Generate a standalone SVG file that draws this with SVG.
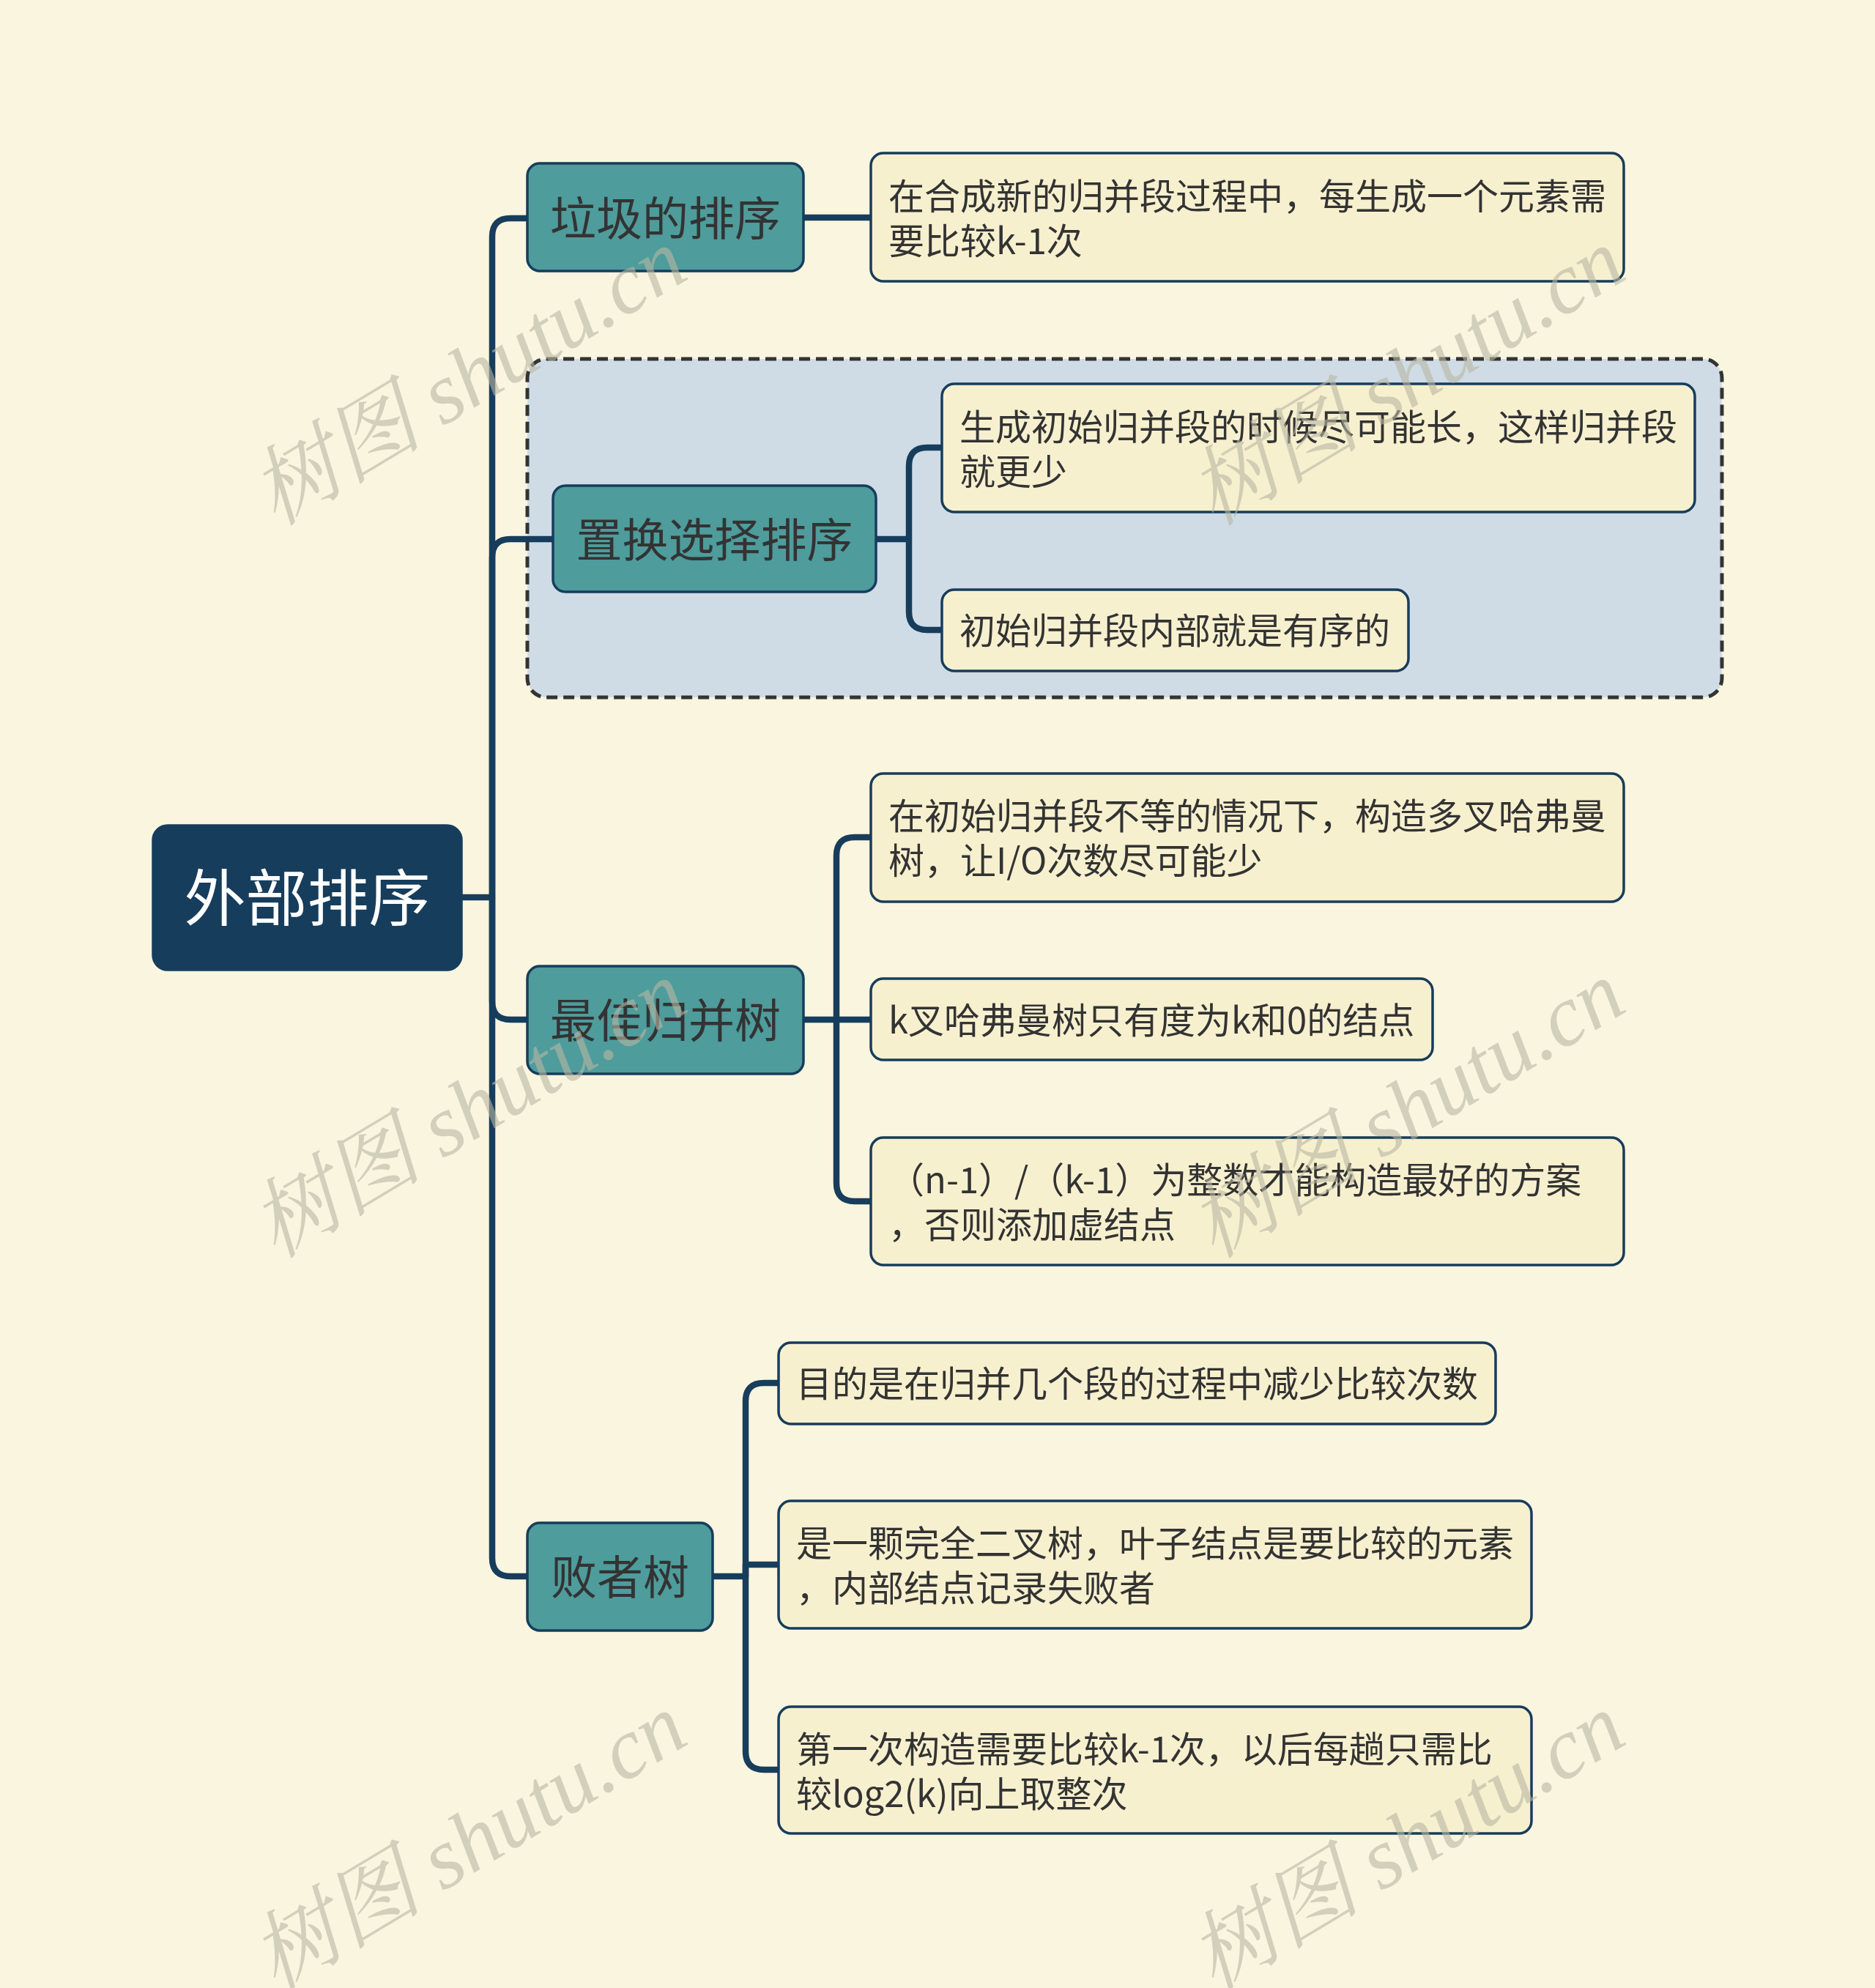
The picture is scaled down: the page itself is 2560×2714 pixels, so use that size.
<svg xmlns="http://www.w3.org/2000/svg" width="2560" height="2714" viewBox="0 0 2560 2714">
<style>
.bg{fill:#faf5df}
.root{fill:#173d5c;stroke:#173d5c;stroke-width:3.5}
.br{fill:#4e9c9c;stroke:#173d5c;stroke-width:3.5}
.lf{fill:#f7f0cf;stroke:#173d5c;stroke-width:3.5}
.grp{fill:#cfdce6;stroke:#333333;stroke-width:5;stroke-dasharray:15 8}
.cn{fill:none;stroke:#173d5c;stroke-width:8.5;stroke-linejoin:round}
text{font-family:"Noto Sans CJK SC","Noto Sans",sans-serif;dominant-baseline:central}
.tr{fill:#ffffff;font-size:84px;text-anchor:middle}
.tb{fill:#333333;font-size:63px;text-anchor:middle}
.tl{fill:#333333;font-size:49px}
.wm{fill:#b9b7a3;opacity:0.6;font-family:"Liberation Serif","Noto Serif CJK SC","Noto Sans CJK SC",serif;font-style:italic;font-size:118px;text-anchor:middle}
</style>
<rect class="bg" x="0" y="0" width="2560" height="2714"/>
<g id="group-box">
<rect class="grp" x="720" y="490" width="1631" height="462" rx="26"/>
</g>
<g id="connectors">
<path class="cn" d="M 630 1225 H 672 V 323 Q 672 298 697 298 H 720"/>
<path class="cn" d="M 672 1225 V 761 Q 672 736 697 736 H 755"/>
<path class="cn" d="M 672 1225 V 1367 Q 672 1392 697 1392 H 720"/>
<path class="cn" d="M 672 1225 V 2127 Q 672 2152 697 2152 H 720"/>
<path class="cn" d="M 1097 297 H 1189"/>
<path class="cn" d="M 1196 736 H 1241 V 636 Q 1241 611 1266 611 H 1286"/>
<path class="cn" d="M 1241 736 V 835 Q 1241 860 1266 860 H 1286"/>
<path class="cn" d="M 1097 1392 H 1142 V 1168 Q 1142 1143 1167 1143 H 1189"/>
<path class="cn" d="M 1142 1392 H 1189"/>
<path class="cn" d="M 1142 1392 V 1615 Q 1142 1640 1167 1640 H 1189"/>
<path class="cn" d="M 973 2152 H 1018 V 1913 Q 1018 1888 1043 1888 H 1063"/>
<path class="cn" d="M 1018 2152 V 2136 H 1063"/>
<path class="cn" d="M 1018 2152 V 2391 Q 1018 2416 1043 2416 H 1063"/>
</g>
<g id="root">
<rect class="root" x="209" y="1127" width="421" height="197" rx="20"/>
<text class="tr" x="419.5" y="1220">外部排序</text>
</g>
<g id="b1">
<rect class="br" x="720" y="223" width="377" height="147" rx="17"/>
<text class="tb" x="908.5" y="293">垃圾的排序</text>
</g>
<g id="l1">
<rect class="lf" x="1189" y="209" width="1028" height="175" rx="17"/>
<text class="tl" x="1213" y="264">在合成新的归并段过程中，每生成一个元素需</text>
<text class="tl" x="1213" y="325">要比较k-1次</text>
</g>
<g id="b2">
<rect class="br" x="755" y="663" width="441" height="145" rx="17"/>
<text class="tb" x="975.5" y="732">置换选择排序</text>
</g>
<g id="l2a">
<rect class="lf" x="1286" y="524" width="1028" height="175" rx="17"/>
<text class="tl" x="1310" y="579">生成初始归并段的时候尽可能长，这样归并段</text>
<text class="tl" x="1310" y="640">就更少</text>
</g>
<g id="l2b">
<rect class="lf" x="1286" y="805" width="637" height="111" rx="17"/>
<text class="tl" x="1310" y="857">初始归并段内部就是有序的</text>
</g>
<g id="b3">
<rect class="br" x="720" y="1319" width="377" height="147" rx="17"/>
<text class="tb" x="908.5" y="1388">最佳归并树</text>
</g>
<g id="l3a">
<rect class="lf" x="1189" y="1056" width="1028" height="175" rx="17"/>
<text class="tl" x="1213" y="1110">在初始归并段不等的情况下，构造多叉哈弗曼</text>
<text class="tl" x="1213" y="1171">树，让I/O次数尽可能少</text>
</g>
<g id="l3b">
<rect class="lf" x="1189" y="1336" width="767" height="111" rx="17"/>
<text class="tl" x="1213" y="1389">k叉哈弗曼树只有度为k和0的结点</text>
</g>
<g id="l3c">
<rect class="lf" x="1189" y="1553" width="1028" height="174" rx="17"/>
<text class="tl" x="1213" y="1607">（n-1）/（k-1）为整数才能构造最好的方案</text>
<text class="tl" x="1213" y="1668">，否则添加虚结点</text>
</g>
<g id="b4">
<rect class="br" x="720" y="2079" width="253" height="147" rx="17"/>
<text class="tb" x="846.5" y="2148">败者树</text>
</g>
<g id="l4a">
<rect class="lf" x="1063" y="1833" width="979" height="111" rx="17"/>
<text class="tl" x="1087" y="1885">目的是在归并几个段的过程中减少比较次数</text>
</g>
<g id="l4b">
<rect class="lf" x="1063" y="2049" width="1028" height="174" rx="17"/>
<text class="tl" x="1087" y="2103">是一颗完全二叉树，叶子结点是要比较的元素</text>
<text class="tl" x="1087" y="2164">，内部结点记录失败者</text>
</g>
<g id="l4c">
<rect class="lf" x="1063" y="2330" width="1028" height="173" rx="17"/>
<text class="tl" x="1087" y="2384">第一次构造需要比较k-1次，以后每趟只需比</text>
<text class="tl" x="1087" y="2445">较log2(k)向上取整次</text>
</g>
<g id="watermarks">
<text class="wm" transform="translate(640,515) rotate(-31)">树图 shutu.cn</text>
<text class="wm" transform="translate(1921,515) rotate(-31)">树图 shutu.cn</text>
<text class="wm" transform="translate(640,1515) rotate(-31)">树图 shutu.cn</text>
<text class="wm" transform="translate(1921,1515) rotate(-31)">树图 shutu.cn</text>
<text class="wm" transform="translate(640,2515) rotate(-31)">树图 shutu.cn</text>
<text class="wm" transform="translate(1921,2515) rotate(-31)">树图 shutu.cn</text>
</g>
</svg>
